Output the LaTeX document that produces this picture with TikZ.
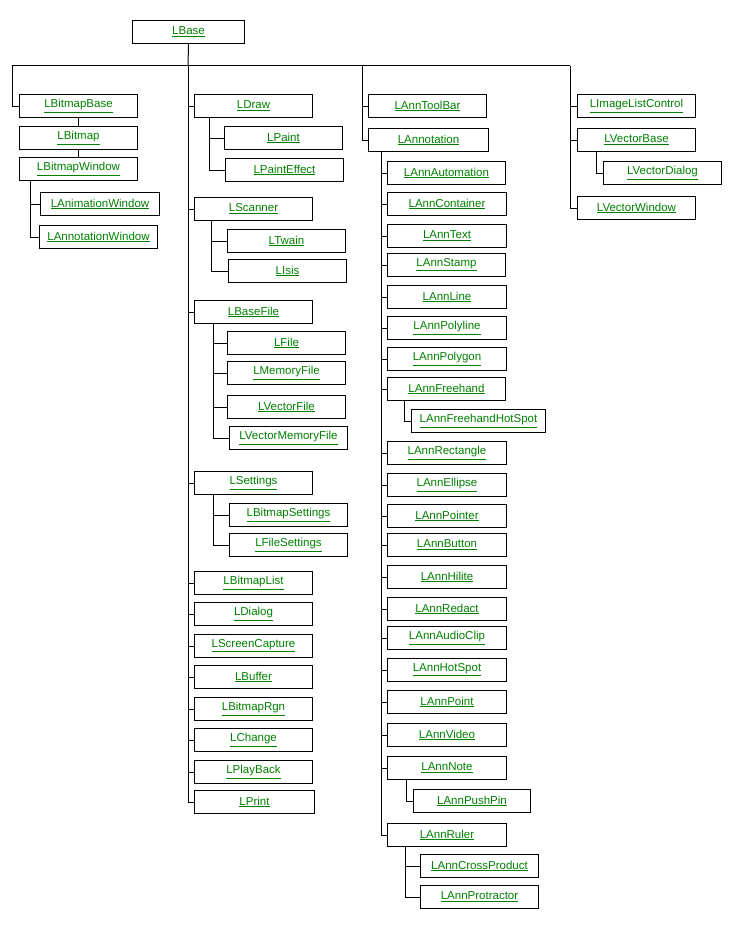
\documentclass[tikz,border=0pt]{standalone}
\usepackage{fontspec}
\setmainfont{Liberation Sans}
\definecolor{lnk}{RGB}{0,128,0}
\tikzset{cls/.style={draw,line width=1pt,anchor=north west,inner sep=0pt,minimum height=23pt,text=lnk,font=\fontsize{11.5}{12}\selectfont},
 ln/.style={line width=1pt}}
\newcommand{\bx}[5]{\node[cls,minimum width=#4pt] (#1) at (#2,#3) {\underline{#5}};}
\begin{document}
\begin{tikzpicture}[x=1pt,y=-1pt]
\useasboundingbox (0,0) rectangle (750,950);
\bx{LBase}{132}{20}{112}{LBase}
% column 1
\bx{LBitmapBase}{19}{94}{118}{LBitmapBase}
\bx{LBitmap}{19}{126}{118}{LBitmap}
\bx{LBitmapWindow}{19}{157}{118}{LBitmapWindow}
\bx{LAnimationWindow}{40}{192}{119}{LAnimationWindow}
\bx{LAnnotationWindow}{39}{225}{118}{LAnnotationWindow}
% column 2
\bx{LDraw}{194}{94}{118}{LDraw}
\bx{LPaint}{224}{126}{118}{LPaint}
\bx{LPaintEffect}{225}{158}{118}{LPaintEffect}
\bx{LScanner}{194}{197}{118}{LScanner}
\bx{LTwain}{227}{229}{118}{LTwain}
\bx{LIsis}{228}{259}{118}{LIsis}
\bx{LBaseFile}{194}{300}{118}{LBaseFile}
\bx{LFile}{227}{331}{118}{LFile}
\bx{LMemoryFile}{227}{361}{118}{LMemoryFile}
\bx{LVectorFile}{227}{395}{118}{LVectorFile}
\bx{LVectorMemoryFile}{229}{426}{118}{LVectorMemoryFile}
\bx{LSettings}{194}{471}{118}{LSettings}
\bx{LBitmapSettings}{229}{503}{118}{LBitmapSettings}
\bx{LFileSettings}{229}{533}{118}{LFileSettings}
\bx{LBitmapList}{194}{571}{118}{LBitmapList}
\bx{LDialog}{194}{602}{118}{LDialog}
\bx{LScreenCapture}{194}{634}{118}{LScreenCapture}
\bx{LBuffer}{194}{665}{118}{LBuffer}
\bx{LBitmapRgn}{194}{697}{118}{LBitmapRgn}
\bx{LChange}{194}{728}{118}{LChange}
\bx{LPlayBack}{194}{760}{118}{LPlayBack}
\bx{LPrint}{194}{790}{120}{LPrint}
% column 3
\bx{LAnnToolBar}{368}{94}{118}{LAnnToolBar}
\bx{LAnnotation}{368}{128}{120}{LAnnotation}
\bx{a1}{387}{161}{118}{LAnnAutomation}
\bx{a2}{387}{192}{119}{LAnnContainer}
\bx{a3}{387}{224}{119}{LAnnText}
\bx{a4}{387}{253}{118}{LAnnStamp}
\bx{a5}{387}{285}{119}{LAnnLine}
\bx{a6}{387}{316}{119}{LAnnPolyline}
\bx{a7}{387}{347}{119}{LAnnPolygon}
\bx{a8}{387}{377}{118}{LAnnFreehand}
\bx{a8a}{411}{409}{134}{LAnnFreehandHotSpot}
\bx{a9}{387}{441}{119}{LAnnRectangle}
\bx{a10}{387}{473}{119}{LAnnEllipse}
\bx{a11}{387}{504}{119}{LAnnPointer}
\bx{a12}{387}{533}{119}{LAnnButton}
\bx{a13}{387}{565}{119}{LAnnHilite}
\bx{a14}{387}{597}{119}{LAnnRedact}
\bx{a15}{387}{626}{119}{LAnnAudioClip}
\bx{a16}{387}{658}{119}{LAnnHotSpot}
\bx{a17}{387}{690}{119}{LAnnPoint}
\bx{a18}{387}{723}{119}{LAnnVideo}
\bx{a19}{387}{756}{119}{LAnnNote}
\bx{a19a}{413}{789}{117}{LAnnPushPin}
\bx{a20}{387}{823}{119}{LAnnRuler}
\bx{a20a}{420}{854}{118}{LAnnCrossProduct}
\bx{a20b}{420}{885}{118}{LAnnProtractor}
% column 4
\bx{LImageListControl}{577}{94}{118}{LImageListControl}
\bx{LVectorBase}{577}{128}{118}{LVectorBase}
\bx{LVectorDialog}{603}{161}{118}{LVectorDialog}
\bx{LVectorWindow}{577}{196}{118}{LVectorWindow}
% connectors
\coordinate (bar) at (188,66);
\coordinate (t1) at (12,66);
\coordinate (t3) at (362,66);
\coordinate (t4) at (570,66);
\draw[ln] (LBase.south) -- (bar);
\draw[ln] (t1) -- (t4);
\draw[ln] (t1) |- (LBitmapBase.west);
\draw[ln] (LBitmapBase) -- (LBitmap);
\draw[ln] (LBitmap) -- (LBitmapWindow);
\foreach \c in {LAnimationWindow,LAnnotationWindow}
  \draw[ln] ([xshift=11pt]LBitmapWindow.south west) |- (\c.west);
\foreach \c in {LDraw,LScanner,LBaseFile,LSettings,LBitmapList,LDialog,LScreenCapture,LBuffer,LBitmapRgn,LChange,LPlayBack,LPrint}
  \draw[ln] (bar) |- (\c.west);
\foreach \c in {LPaint,LPaintEffect}
  \draw[ln] ([xshift=15pt]LDraw.south west) |- (\c.west);
\foreach \c in {LTwain,LIsis}
  \draw[ln] ([xshift=17pt]LScanner.south west) |- (\c.west);
\foreach \c in {LFile,LMemoryFile,LVectorFile,LVectorMemoryFile}
  \draw[ln] ([xshift=19pt]LBaseFile.south west) |- (\c.west);
\foreach \c in {LBitmapSettings,LFileSettings}
  \draw[ln] ([xshift=19pt]LSettings.south west) |- (\c.west);
\foreach \c in {LAnnToolBar,LAnnotation}
  \draw[ln] (t3) |- (\c.west);
\foreach \c in {a1,a2,a3,a4,a5,a6,a7,a8,a9,a10,a11,a12,a13,a14,a15,a16,a17,a18,a19,a20}
  \draw[ln] ([xshift=13pt]LAnnotation.south west) |- (\c.west);
\draw[ln] ([xshift=17pt]a8.south west) |- (a8a.west);
\draw[ln] ([xshift=19pt]a19.south west) |- (a19a.west);
\foreach \c in {a20a,a20b}
  \draw[ln] ([xshift=18pt]a20.south west) |- (\c.west);
\foreach \c in {LImageListControl,LVectorBase,LVectorWindow}
  \draw[ln] (t4) |- (\c.west);
\draw[ln] ([xshift=19pt]LVectorBase.south west) |- (LVectorDialog.west);
\end{tikzpicture}
\end{document}
